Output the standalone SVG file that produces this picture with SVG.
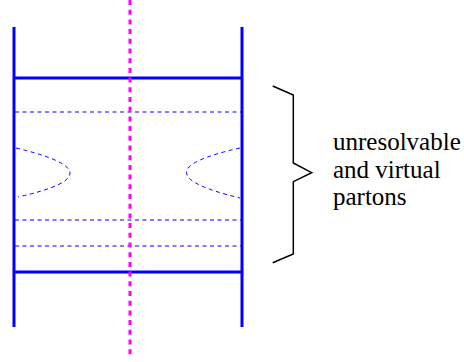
<svg xmlns="http://www.w3.org/2000/svg" width="464" height="362" viewBox="0 0 464 362">
<style>
.solid{stroke:#0000ff;stroke-width:3;fill:none}
.dash{stroke:#0000ff;stroke-width:1;stroke-dasharray:4 3.5;fill:none}
.cut{stroke:#ff00ff;stroke-width:3;stroke-dasharray:5 4.7;fill:none}
.brace{stroke:#000;stroke-width:1.5;fill:none}
</style>
<rect width="464" height="362" fill="#fff"/>
<g id="connectors">
<line id="leftLeg" class="solid" x1="14" y1="27" x2="14" y2="327"/>
<line id="rightLeg" class="solid" x1="242" y1="27" x2="242" y2="327"/>
<line class="solid" x1="14" y1="78" x2="242" y2="78"/>
<line class="solid" x1="14" y1="272" x2="242" y2="272"/>
<line class="dash" x1="15" y1="112" x2="241" y2="112"/>
<line class="dash" x1="15" y1="220" x2="241" y2="220"/>
<line class="dash" x1="15" y1="246" x2="241" y2="246"/>
<path class="dash" d="M16,148 Q123,173.5 18,197"/>
<path class="dash" d="M240,148 Q133,172 240,198"/>
<line id="cutLine" class="cut" x1="130" y1="0" x2="130" y2="358"/>
</g>
<g id="brace">
<path class="brace" d="M272.7,86 L293.3,95 L293.3,163 L311.7,172.7 L293.3,181.7 L293.3,254 L272.7,262.7"/>
</g>
<g id="label" font-family="'Liberation Serif', 'Times New Roman', serif" font-size="25" fill="#000">
<text x="333" y="150">unresolvable</text>
<text x="333" y="177.5">and virtual</text>
<text x="333" y="205">partons</text>
</g>
</svg>
